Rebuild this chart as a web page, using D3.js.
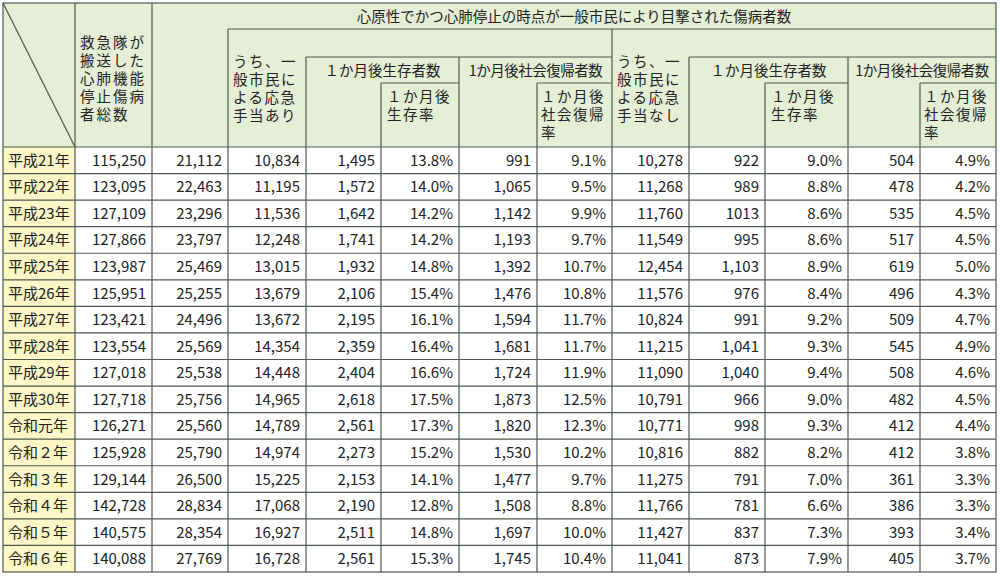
<!DOCTYPE html>
<html lang="ja">
<head>
<meta charset="UTF-8">
<script src="https://d3js.org/d3.v7.min.js"></script>
<style>
  body { margin: 0; background: #fff; }
  text { font-family: "Noto Sans CJK JP", sans-serif; fill: #222; }
</style>
</head>
<body>
<svg id="chart" width="1000" height="576"></svg>
<script>
// data
const years = ["平成21年","平成22年","平成23年","平成24年","平成25年","平成26年","平成27年","平成28年","平成29年","平成30年","令和元年","令和２年","令和３年","令和４年","令和５年","令和６年"];
const total = ["115,250","123,095","127,109","127,866","123,987","125,951","123,421","123,554","127,018","127,718","126,271","125,928","129,144","142,728","140,575","140,088"];
const witnessed = ["21,112","22,463","23,296","23,797","25,469","25,255","24,496","25,569","25,538","25,756","25,560","25,790","26,500","28,834","28,354","27,769"];
const withAid = ["10,834","11,195","11,536","12,248","13,015","13,679","13,672","14,354","14,448","14,965","14,789","14,974","15,225","17,068","16,927","16,728"];
const aidSurv = ["1,495","1,572","1,642","1,741","1,932","2,106","2,195","2,359","2,404","2,618","2,561","2,273","2,153","2,190","2,511","2,561"];
const aidSurvRate = ["13.8%","14.0%","14.2%","14.2%","14.8%","15.4%","16.1%","16.4%","16.6%","17.5%","17.3%","15.2%","14.1%","12.8%","14.8%","15.3%"];
const aidSoc = ["991","1,065","1,142","1,193","1,392","1,476","1,594","1,681","1,724","1,873","1,820","1,530","1,477","1,508","1,697","1,745"];
const aidSocRate = ["9.1%","9.5%","9.9%","9.7%","10.7%","10.8%","11.7%","11.7%","11.9%","12.5%","12.3%","10.2%","9.7%","8.8%","10.0%","10.4%"];
const noAid = ["10,278","11,268","11,760","11,549","12,454","11,576","10,824","11,215","11,090","10,791","10,771","10,816","11,275","11,766","11,427","11,041"];
const noSurv = ["922","989","1013","995","1,103","976","991","1,041","1,040","966","998","882","791","781","837","873"];
const noSurvRate = ["9.0%","8.8%","8.6%","8.6%","8.9%","8.4%","9.2%","9.3%","9.4%","9.0%","9.3%","8.2%","7.0%","6.6%","7.3%","7.9%"];
const noSoc = ["504","478","535","517","619","496","509","545","508","482","412","412","361","386","393","405"];
const noSocRate = ["4.9%","4.2%","4.5%","4.5%","5.0%","4.3%","4.7%","4.9%","4.6%","4.5%","4.4%","3.8%","3.3%","3.3%","3.4%","3.7%"];

const columns = [total, witnessed, withAid, aidSurv, aidSurvRate, aidSoc, aidSocRate, noAid, noSurv, noSurvRate, noSoc, noSocRate];
const edges = [3, 75, 152, 228, 306, 381, 459, 537, 612, 689, 765, 848, 920, 996];

const svg = d3.select("#chart");
const line = "#4d5a4d";
const headTop = 3, headBottom = 147, bottom = 572;

const y = d3.scaleBand().domain(years).range([headBottom, bottom]);

// header background
svg.append("rect").attr("x", edges[0]).attr("y", headTop)
  .attr("width", edges[13] - edges[0]).attr("height", headBottom - headTop)
  .attr("fill", "#e4efd6");

// row label cells
svg.append("g").selectAll("rect").data(years).join("rect")
  .attr("x", edges[0]).attr("y", d => y(d))
  .attr("width", edges[1] - edges[0]).attr("height", y.bandwidth())
  .attr("fill", "#fdf6c6");

svg.append("g").selectAll("text").data(years).join("text")
  .attr("x", edges[0] + 5).attr("y", d => y(d) + y.bandwidth() / 2 + 5.5)
  .attr("font-size", 15).text(d => d);

// data cells
columns.forEach((col, ci) => {
  svg.append("g").selectAll("text").data(col).join("text")
    .attr("x", edges[ci + 2] - 6)
    .attr("y", (d, i) => y(years[i]) + y.bandwidth() / 2 + 5.5)
    .attr("text-anchor", "end").attr("font-size", 15)
    .text(d => d);
});

// grid lines
const g = svg.append("g").attr("stroke", line).attr("stroke-width", 1.2).attr("fill", "none");
function hl(x1, x2, yy) { g.append("line").attr("x1", x1).attr("x2", x2).attr("y1", yy).attr("y2", yy); }
function vl(xx, y1, y2) { g.append("line").attr("x1", xx).attr("x2", xx).attr("y1", y1).attr("y2", y2); }

g.append("rect").attr("x", edges[0]).attr("y", headTop).attr("width", edges[13] - edges[0]).attr("height", bottom - headTop);
years.forEach(d => hl(edges[0], edges[13], y(d)));
vl(edges[1], headTop, bottom);
vl(edges[2], headTop, bottom);
hl(edges[3], edges[13], 29);
vl(edges[3], 29, bottom);
vl(edges[8], 29, bottom);
hl(edges[4], edges[8], 57);
hl(edges[9], edges[13], 57);
vl(edges[4], 57, bottom);
vl(edges[6], 57, bottom);
vl(edges[9], 57, bottom);
vl(edges[11], 57, bottom);
[[5, 6], [7, 8], [10, 11], [12, 13]].forEach(([a, b]) => { hl(edges[a], edges[b], 83); vl(edges[a], 83, bottom); });
g.append("line").attr("x1", edges[0]).attr("y1", headTop).attr("x2", edges[1]).attr("y2", headBottom);

// header texts
const head = svg.append("g").attr("font-size", 14.5);
function multi(x, y0, lines, anchor, spacing) {
  const t = head.append("text").attr("x", x).attr("y", y0).attr("text-anchor", anchor || "start")
    .attr("letter-spacing", spacing || 0);
  lines.forEach((s, i) => t.append("tspan").attr("x", x).attr("y", y0 + i * 18).text(s));
}
multi((edges[2] + edges[13]) / 2, 22, ["心原性でかつ心肺停止の時点が一般市民により目撃された傷病者数"], "middle");
multi(edges[1] + 5, 48, ["救急隊が", "搬送した", "心肺機能", "停止傷病", "者総数"], "start", 2);
multi(edges[3] + 5, 67, ["うち、一", "般市民に", "よる応急", "手当あり"], "start", 1.5);
multi(edges[8] + 5, 67, ["うち、一", "般市民に", "よる応急", "手当なし"], "start", 1.5);
multi((edges[4] + edges[6]) / 2, 76, ["１か月後生存者数"], "middle");
multi((edges[6] + edges[8]) / 2, 76, ["1か月後社会復帰者数"], "middle", -0.5);
multi((edges[9] + edges[11]) / 2, 76, ["１か月後生存者数"], "middle");
multi((edges[11] + edges[13]) / 2, 76, ["1か月後社会復帰者数"], "middle", -0.5);
multi(edges[5] + 6, 102, ["１か月後", "生存率"], "start", 1.5);
multi(edges[10] + 6, 102, ["１か月後", "生存率"], "start", 1.5);
multi(edges[7] + 4, 102, ["１か月後", "社会復帰", "率"], "start", 1.5);
multi(edges[12] + 4, 102, ["１か月後", "社会復帰", "率"], "start", 1.5);
</script>
</body>
</html>
